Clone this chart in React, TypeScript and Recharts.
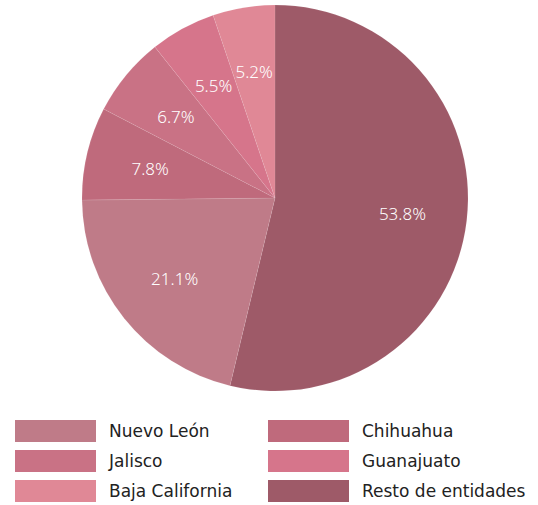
import { PieChart, Pie, Cell } from "recharts";

// Orden del pastel (sentido horario desde arriba)
const pieNames = [
  "Resto de entidades",
  "Nuevo León",
  "Chihuahua",
  "Jalisco",
  "Guanajuato",
  "Baja California",
];
const pieValues = [53.8, 21.1, 7.8, 6.7, 5.5, 5.2];

// Orden de la leyenda (dos columnas)
const legendNames = [
  "Nuevo León",
  "Chihuahua",
  "Jalisco",
  "Guanajuato",
  "Baja California",
  "Resto de entidades",
];

const COLORS: Record<string, string> = {
  "Nuevo León": "#bf7b88",
  Chihuahua: "#bf6a7c",
  Jalisco: "#c97285",
  Guanajuato: "#d6758b",
  "Baja California": "#e08896",
  "Resto de entidades": "#9e5a68",
};

const data = pieNames.map((name, i) => ({ name, value: pieValues[i] }));

const RAD = Math.PI / 180;

const renderLabel = (props: any) => {
  const { cx, cy, midAngle, outerRadius, value } = props;
  const r = outerRadius * 0.665;
  const x = cx + r * Math.cos(-midAngle * RAD);
  const y = cy + r * Math.sin(-midAngle * RAD);
  return (
    <text
      x={x}
      y={y}
      fill="#ffffff"
      textAnchor="middle"
      dominantBaseline="central"
      fontSize={17}
      fontFamily="'Noto Sans', sans-serif"
      fontWeight={300}
    >
      {value.toFixed(1)}%
    </text>
  );
};

export default function App() {
  return (
    <div
      style={{
        position: "absolute",
        left: 0,
        top: 0,
        width: 538,
        height: 505,
        background: "#fff",
        fontFamily: "'DejaVu Sans', sans-serif",
      }}
    >
      <PieChart
        width={538}
        height={400}
        margin={{ top: 0, right: 0, bottom: 0, left: 0 }}
      >
        <Pie
          data={data}
          dataKey="value"
          cx={275}
          cy={198}
          outerRadius={193}
          startAngle={90}
          endAngle={-270}
          stroke="rgba(255,255,255,0.08)"
          strokeWidth={1}
          label={renderLabel}
          labelLine={false}
          isAnimationActive={false}
        >
          {data.map((entry, index) => (
            <Cell key={`cell-${index}`} fill={COLORS[entry.name]} />
          ))}
        </Pie>
      </PieChart>
      {legendNames.map((name, i) => {
        const col = i % 2;
        const row = Math.floor(i / 2);
        return (
          <div
            key={name}
            style={{
              position: "absolute",
              left: col === 0 ? 15 : 268,
              top: 420 + row * 30,
              height: 22,
              display: "flex",
              alignItems: "center",
            }}
          >
            <div
              style={{
                width: 81,
                height: 22,
                backgroundColor: COLORS[name],
                marginRight: 13,
              }}
            />
            <span style={{ fontSize: 17, color: "#222" }}>{name}</span>
          </div>
        );
      })}
    </div>
  );
}
